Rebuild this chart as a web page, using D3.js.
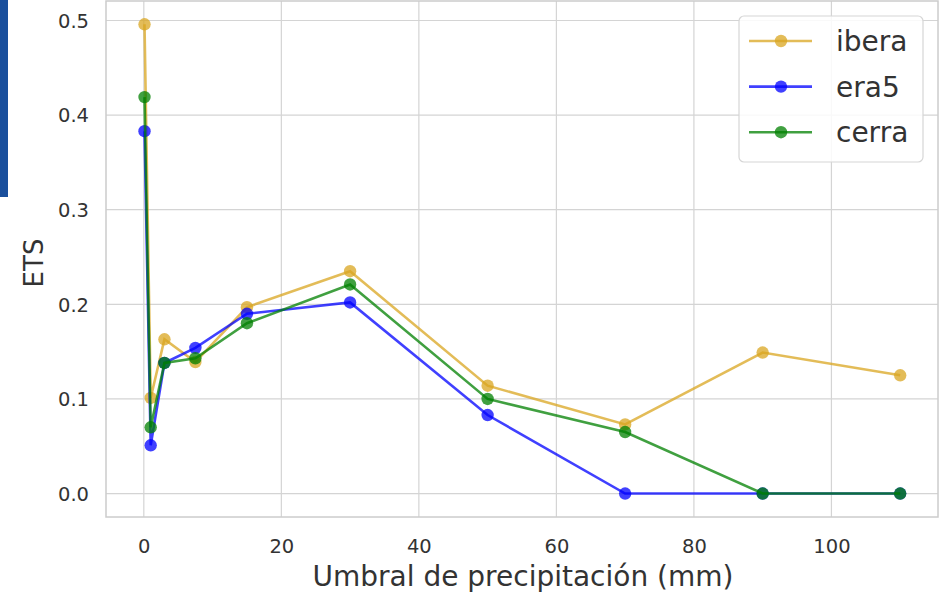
<!DOCTYPE html>
<html>
<head>
<meta charset="utf-8">
<script src="https://cdn.jsdelivr.net/npm/d3@7"></script>
<style>
  html, body { margin: 0; padding: 0; background: #fff; }
  svg { display: block; font-family: "DejaVu Sans", sans-serif; }
</style>
</head>
<body>
<svg id="chart" width="948" height="595"></svg>
<script>
// ---- data ----
const thresholds = [0.1, 1, 3, 7.5, 15, 30, 50, 70, 90, 110];
const ibera = [0.496, 0.101, 0.163, 0.139, 0.197, 0.235, 0.114, 0.073, 0.149, 0.125];
const era5  = [0.383, 0.051, 0.138, 0.154, 0.190, 0.202, 0.083, 0.000, 0.000, 0.000];
const cerra = [0.419, 0.070, 0.138, 0.143, 0.180, 0.221, 0.100, 0.065, 0.000, 0.000];
const seriesNames = ["ibera", "era5", "cerra"];
const seriesColors = ["#daa520", "#0000ff", "#008000"];
const xTicks = [0, 20, 40, 60, 80, 100];
const yTicks = [0.0, 0.1, 0.2, 0.3, 0.4, 0.5];
const xLabel = "Umbral de precipitación (mm)";
const yLabel = "ETS";

const series = [ibera, era5, cerra].map((vals, i) => ({
  name: seriesNames[i], color: seriesColors[i],
  points: vals.map((v, j) => ({ x: thresholds[j], y: v }))
}));

const svg = d3.select("#chart");
const pLeft = 106, pRight = 938, pTop = 1, pBottom = 517;

// decorative blue strip at the left edge (part of the screenshot)
svg.append("rect").attr("x", 0).attr("y", 0).attr("width", 8).attr("height", 197).attr("fill", "#1a4f9c");

const x = d3.scaleLinear().domain([-5.5, 115.5]).range([pLeft, pRight]);
const y = d3.scaleLinear().domain([-0.0248, 0.5206]).range([pBottom, pTop]);

const gridColor = "#d4d4d4";
// grid
svg.append("g").selectAll("line").data(xTicks).join("line")
  .attr("x1", d => x(d)).attr("x2", d => x(d)).attr("y1", pTop).attr("y2", pBottom)
  .attr("stroke", gridColor).attr("stroke-width", 1.2);
svg.append("g").selectAll("line").data(yTicks).join("line")
  .attr("y1", d => y(d)).attr("y2", d => y(d)).attr("x1", pLeft).attr("x2", pRight)
  .attr("stroke", gridColor).attr("stroke-width", 1.2);

// frame
svg.append("rect").attr("x", pLeft).attr("y", pTop).attr("width", pRight - pLeft).attr("height", pBottom - pTop)
  .attr("fill", "none").attr("stroke", "#cccccc").attr("stroke-width", 1.5);

// axes (labels only, no tick marks)
const xAxis = svg.append("g").attr("transform", `translate(0,${pBottom})`)
  .call(d3.axisBottom(x).tickValues(xTicks).tickSize(0).tickPadding(22).tickFormat(d3.format("d")));
const yAxis = svg.append("g").attr("transform", `translate(${pLeft},0)`)
  .call(d3.axisLeft(y).tickValues(yTicks).tickSize(0).tickPadding(17).tickFormat(d3.format(".1f")));
[xAxis, yAxis].forEach(g => {
  g.select(".domain").remove();
  g.selectAll("text").attr("font-size", 19.5).attr("fill", "#333").attr("font-family", "DejaVu Sans");
});
xAxis.selectAll("text").attr("dy", "0.71em");
yAxis.selectAll("text").attr("dy", "0.35em");

// axis titles
svg.append("text").attr("x", 523).attr("y", 586)
  .attr("text-anchor", "middle").attr("font-size", 28).attr("fill", "#333").text(xLabel);
svg.append("text").attr("transform", `translate(43,263) rotate(-90)`)
  .attr("text-anchor", "middle").attr("font-size", 26).attr("fill", "#333").text(yLabel);

// lines
const line = d3.line().x(d => x(d.x)).y(d => y(d.y));
series.forEach(s => {
  svg.append("path").datum(s.points).attr("d", line)
    .attr("fill", "none").attr("stroke", s.color).attr("stroke-width", 2.6).attr("stroke-opacity", 0.75);
  svg.append("g").selectAll("circle").data(s.points).join("circle")
    .attr("cx", d => x(d.x)).attr("cy", d => y(d.y)).attr("r", 6.2)
    .attr("fill", s.color).attr("fill-opacity", 0.75);
});

// legend
const lg = svg.append("g");
lg.append("rect").attr("x", 739).attr("y", 16).attr("width", 184).attr("height", 146)
  .attr("rx", 5).attr("fill", "#fff").attr("fill-opacity", 0.85).attr("stroke", "#d6d6d6").attr("stroke-width", 1.2);
series.forEach((s, i) => {
  const cy = 41 + i * 45.6;
  lg.append("line").attr("x1", 749).attr("x2", 812).attr("y1", cy).attr("y2", cy)
    .attr("stroke", s.color).attr("stroke-width", 2.6).attr("stroke-opacity", 0.75);
  lg.append("circle").attr("cx", 781).attr("cy", cy).attr("r", 6.2)
    .attr("fill", s.color).attr("fill-opacity", 0.75);
  lg.append("text").attr("x", 836).attr("y", cy).attr("dy", "0.36em")
    .attr("font-size", 28).attr("fill", "#333").text(s.name);
});
</script>
</body>
</html>
